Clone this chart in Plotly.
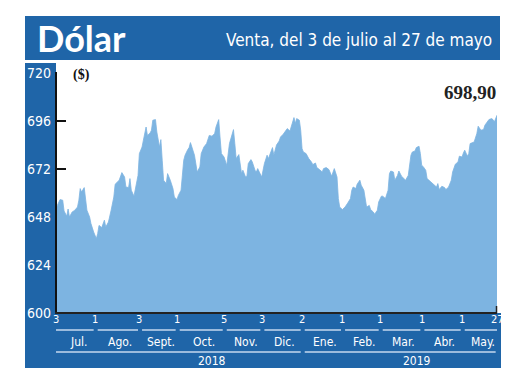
import pandas as pd
import plotly.graph_objects as go

# ---------------- data ----------------
START_DATE = "2018-07-03"
DAY_OFFSETS = [
    0, 1, 3, 5, 6, 8, 9, 10, 12, 14, 16, 17, 18, 19, 21, 22, 23, 25, 26, 28,
    30, 31, 32, 34, 36, 37, 39, 41, 43, 44, 46, 47, 49, 51, 52, 54, 55, 56, 58, 59,
    61, 62, 64, 65, 67, 68, 70, 71, 72, 74, 75, 77, 78, 79, 80, 82, 83,
    85, 87, 88, 90, 91, 93, 95, 96, 98, 99, 100, 102, 103, 105, 107, 108, 110, 112,
    114, 116, 118, 119, 121, 122, 123, 125, 127, 129, 130, 132, 133, 134, 136, 137,
    138, 139, 141, 142, 143, 145, 146, 148, 149, 150, 152, 153, 155, 157, 158, 160,
    161, 162, 164, 166,
    167, 169, 171, 172, 174, 176, 177, 178, 179, 181, 182, 183, 184, 186, 188, 190,
    191, 193, 194, 196, 198, 199, 201, 203, 204, 205, 207, 208, 209, 210, 211, 213,
    215, 217, 219, 220, 221, 223, 224, 226, 227, 229, 230, 231, 233, 234, 236, 237,
    239, 240, 242, 243, 245, 247, 248,
    249, 251, 252, 254, 255, 257, 259, 260, 262, 264, 265, 267, 268, 270, 271, 272,
    273, 275, 276, 278, 280, 281, 283, 284, 285, 287, 289, 290, 292, 294, 295, 297,
    299, 300, 302, 303, 304, 306, 307, 308, 310, 311, 313, 314, 316, 318, 319, 321,
    322, 324, 325, 326, 328,
]
VENTA = [
    651.4, 653.8, 656.7, 656.4, 651.0, 648.4, 652.0, 648.0, 650.5, 651.4, 653.0, 656.4,
    662.2, 660.5, 662.7, 656.4, 651.4, 648.0, 644.7, 640.5, 637.2, 639.7, 643.8, 642.7,
    646.4, 643.0, 645.5, 651.4, 658.0, 664.4, 665.5, 666.4, 670.2, 668.0, 663.0, 662.7,
    667.2, 661.4, 658.4, 662.2, 668.8, 679.7, 683.0, 686.4, 693.0, 688.8, 690.0, 691.4,
    696.4, 696.7, 690.5, 683.0, 686.7, 676.4, 666.4, 664.7, 669.7,
    666.4, 662.2, 658.0, 656.7, 658.8, 661.4, 676.4, 678.9, 681.7, 682.7, 685.2, 680.5,
    678.9, 670.5, 673.0, 679.7, 683.0, 684.7, 688.8, 688.4, 689.7, 693.0, 696.7, 688.0,
    679.7, 678.0, 673.8, 684.7, 687.2, 691.7, 684.7, 677.2, 679.2, 673.8, 669.7, 671.4,
    668.0, 668.4, 674.7, 676.7, 675.5, 671.4, 670.5, 672.2, 669.7, 668.0, 674.7, 678.9,
    677.2, 681.7, 682.7, 678.9, 684.0, 686.0,
    688.0, 689.4, 691.4, 692.2, 691.0, 695.0, 697.7, 694.7, 697.2, 696.4, 691.4, 682.2,
    680.5, 679.7, 677.2, 675.5, 674.2, 675.0, 672.7, 671.7, 670.5, 672.2, 672.7, 671.7,
    669.7, 668.4, 672.2, 669.7, 668.0, 657.2, 653.0, 651.7, 653.0, 655.0, 657.2, 661.4,
    663.0, 662.2, 664.4, 666.4, 663.9, 661.4, 656.7, 653.0, 653.8, 651.7, 650.5, 649.4,
    651.4, 655.5, 658.4, 658.4, 657.2, 661.4, 669.7,
    671.0, 670.5, 666.4, 668.8, 671.0, 668.4, 666.7, 666.4, 668.8, 678.9, 680.5, 681.0,
    682.7, 683.4, 679.7, 673.8, 673.3, 671.4, 667.2, 665.9, 665.0, 663.9, 663.0, 664.7,
    661.7, 663.4, 662.7, 661.7, 663.0, 666.4, 670.5, 674.4, 675.5, 678.4, 678.0, 680.0,
    681.4, 678.4, 679.7, 684.7, 685.0, 685.5, 689.7, 693.4, 691.4, 691.7, 693.9, 695.5,
    696.7, 697.2, 696.7, 695.5, 698.9,
]
LAST_VALUE_LABEL = "698,90"

Y_TICKS = [600, 624, 648, 672, 696, 720]
MONTH_STARTS = ["2018-07-03", "2018-08-01", "2018-09-03", "2018-10-01", "2018-11-05",
                "2018-12-03", "2019-01-02", "2019-02-01", "2019-03-01", "2019-04-01",
                "2019-05-01", "2019-05-27"]
DAY_LABELS = ["3", "1", "3", "1", "5", "3", "2", "1", "1", "1", "1", "27"]
MONTH_LABELS = ["Jul.", "Ago.", "Sept.", "Oct.", "Nov.", "Dic.", "Ene.", "Feb.",
                "Mar.", "Abr.", "May."]
YEAR_LABELS = ["2018", "2019"]

TITLE = "Dólar"
SUBTITLE = "Venta, del 3 de julio al 27 de mayo"
UNIT = "($)"

# ---------------- styling ----------------
BLUE = "#1f65a8"
AREA = "#7db4e1"
PALE = "rgba(205,222,242,0.95)"
NARROW = "DejaVu Sans Condensed, Liberation Sans Narrow, sans-serif"
SERIF = "Liberation Serif, Times New Roman, serif"

# the page adds an 8px body margin; layout numbers below are page pixels
OX, OY = 8, 8
W, H = 512, 382
L, R, T, B = 48, 23, 65, 77
PW, PH = W - L - R, H - T - B


def px(xpage):
    return (xpage - OX - L) / PW


def py(ypage):
    return (H - B - (ypage - OY)) / PH


dates = pd.Timestamp(START_DATE) + pd.to_timedelta(DAY_OFFSETS, unit="D")
ms = pd.to_datetime(MONTH_STARTS)

fig = go.Figure()
fig.add_trace(go.Scatter(
    x=dates, y=VENTA, mode="lines", fill="tozeroy",
    fillcolor=AREA, line=dict(color=AREA, width=0.8), hoverinfo="skip",
    showlegend=False,
))

shapes = []
shapes.append(dict(type="rect", xref="paper", yref="paper", x0=px(25), x1=px(500),
                   y0=py(60), y1=py(16), fillcolor=BLUE, line=dict(width=0), layer="below"))
shapes.append(dict(type="rect", xref="paper", yref="paper", x0=px(25), x1=px(56),
                   y0=py(368), y1=py(63), fillcolor=BLUE, line=dict(width=0), layer="below"))
shapes.append(dict(type="rect", xref="paper", yref="paper", x0=px(25), x1=px(501),
                   y0=py(368), y1=py(313), fillcolor=BLUE, line=dict(width=0), layer="below"))
shapes.append(dict(type="line", xref="paper", yref="paper", x0=0, x1=0, y0=py(314), y1=py(72),
                   line=dict(color="#111111", width=2), layer="above"))
shapes.append(dict(type="line", xref="paper", yref="paper", x0=px(55), x1=px(497), y0=0, y1=0,
                   line=dict(color="#222222", width=2), layer="above"))
shapes.append(dict(type="line", xref="paper", yref="paper", x0=px(496.5), x1=px(496.5),
                   y0=py(313), y1=py(306), line=dict(color="#222222", width=1.5), layer="above"))

for i in range(len(ms) - 1):
    a = ms[i] + pd.Timedelta(days=2 if i > 0 else 0)
    b = ms[i + 1] - pd.Timedelta(days=1 if i < len(ms) - 2 else 0)
    shapes.append(dict(type="line", xref="x", yref="paper", x0=a, x1=b, y0=py(330), y1=py(330),
                       line=dict(color=PALE, width=1.4), layer="above"))
shapes.append(dict(type="line", xref="x", yref="paper", x0=ms[0], x1=ms[6] - pd.Timedelta(days=1),
                   y0=py(352), y1=py(352), line=dict(color=PALE, width=1.4), layer="above"))
shapes.append(dict(type="line", xref="x", yref="paper", x0=ms[6] + pd.Timedelta(days=2),
                   x1=ms[-1] - pd.Timedelta(days=1),
                   y0=py(352), y1=py(352), line=dict(color=PALE, width=1.4), layer="above"))

ann = []
ann.append(dict(text=TITLE, xref="paper", yref="paper", x=px(35), y=py(38), xanchor="left",
                yanchor="middle", showarrow=False,
                font=dict(family="Lato, Noto Sans, sans-serif", size=36, color="white", weight="bold")))
ann.append(dict(text=SUBTITLE, xref="paper", yref="paper", x=px(494), y=py(40), xanchor="right",
                yanchor="middle", showarrow=False,
                font=dict(family=NARROW, size=17, color="white")))
ann.append(dict(text="<b>" + UNIT + "</b>", xref="paper", yref="paper", x=px(71), y=py(75),
                xanchor="left", yanchor="middle", showarrow=False,
                font=dict(family=SERIF, size=14, color="#111111")))
ann.append(dict(text="<b>" + LAST_VALUE_LABEL + "</b>", xref="paper", yref="paper", x=px(498),
                y=py(92), xanchor="right", yanchor="middle", showarrow=False,
                font=dict(family=SERIF, size=19, color="#222222")))
for d, lab in zip(ms, DAY_LABELS):
    ann.append(dict(text=lab, xref="x", yref="paper", x=d, y=py(319), xanchor="center",
                    yanchor="middle", showarrow=False,
                    font=dict(family=NARROW, size=11, color="white")))
for i, lab in enumerate(MONTH_LABELS):
    mid = ms[i] + (ms[i + 1] - ms[i]) / 2
    ann.append(dict(text=lab, xref="x", yref="paper", x=mid, y=py(342), xanchor="center",
                    yanchor="middle", showarrow=False, xshift=3,
                    font=dict(family=NARROW, size=12, color="white")))
for xpx, lab in zip([212, 417], YEAR_LABELS):
    ann.append(dict(text=lab, xref="paper", yref="paper", x=px(xpx), y=py(361), xanchor="center",
                    yanchor="middle", showarrow=False,
                    font=dict(family=NARROW, size=12, color="white")))

fig.update_layout(
    width=W, height=H,
    margin=dict(l=L, r=R, t=T, b=B, pad=0),
    paper_bgcolor="white", plot_bgcolor="white",
    shapes=shapes, annotations=ann,
    showlegend=False,
    xaxis=dict(range=[dates[0], dates[-1]], showgrid=False, zeroline=False, showline=False,
               showticklabels=False, ticks="", fixedrange=True),
    yaxis=dict(range=[600, 720], tickvals=Y_TICKS, showgrid=False, zeroline=False, showline=False,
               ticks="inside", ticklen=10, tickwidth=2, tickcolor="#111111",
               layer="below traces", ticklabelstandoff=4,
               tickfont=dict(family=NARROW, size=14, color="white"), fixedrange=True),
)

fig.write_html("out.html")
